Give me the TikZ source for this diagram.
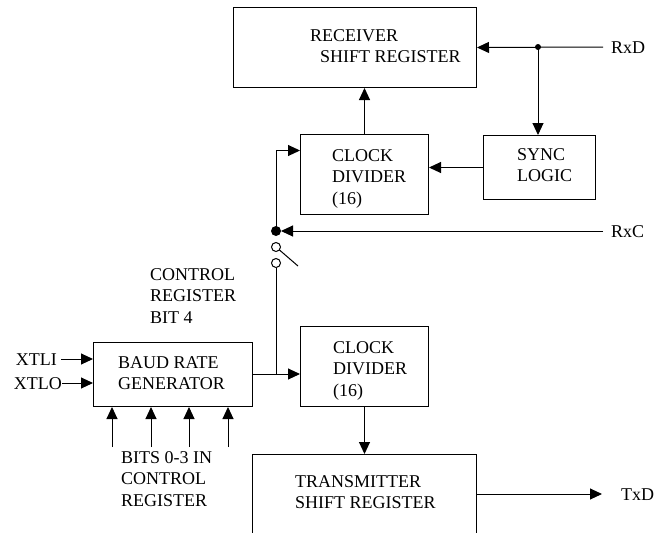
\documentclass[tikz,border=0pt]{standalone}
\usepackage{fontspec}
\setmainfont{Liberation Serif}
\usetikzlibrary{positioning,arrows.meta,calc}

\tikzset{
    blk/.style={draw, line width=1pt, inner sep=0pt, rectangle},
    txt/.style={inner sep=0pt, align=left},
    arr/.style={line width=1pt, -{Triangle[length=12pt,width=11pt]}},
    wire/.style={line width=1pt}
}

\begin{document}
\begin{tikzpicture}[x=1pt, y=-1pt, font=\fontsize{18}{21.5}\selectfont]

\useasboundingbox (0,0) rectangle (665,533);
\clip (0,0) rectangle (665,533);

% Blocks
\node[blk, minimum width=243, minimum height=80, anchor=north west] (rcv) at (233,7) {};
\node[blk, minimum width=128, minimum height=80, anchor=north west] (cdr) at (300,134) {};
\node[blk, minimum width=112, minimum height=64, anchor=north west] (sync) at (483,135) {};
\node[blk, minimum width=159, minimum height=64, anchor=north west] (brg) at (93,342) {};
\node[blk, minimum width=128, minimum height=80, anchor=north west] (cdt) at (300,326) {};
\node[blk, minimum width=224, minimum height=120, anchor=north west] (tsr) at (252,454) {};

% Block texts
\node[txt, anchor=north west] (rcvtxt) at (310,29) {RECEIVER\\\hspace*{10pt}SHIFT REGISTER};
\node[txt, anchor=north west] (cdrtxt) at (332,149) {CLOCK\\DIVIDER\\(16)};
\node[txt, anchor=north west] (synctxt) at (517,148) {SYNC\\LOGIC};
\node[txt, anchor=north west] (brgtxt) at (118,356) {BAUD RATE\\GENERATOR};
\node[txt, anchor=north west] (cdttxt) at (333,341) {CLOCK\\DIVIDER\\(16)};
\node[txt, anchor=north west] (tsrtxt) at (295,475) {TRANSMITTER\\SHIFT REGISTER};

% Free labels
\node[txt, anchor=north west] (ctrl) at (150,268) {CONTROL\\REGISTER\\BIT 4};
\node[txt, anchor=north west] (bits) at (121,451) {BITS 0-3 IN\\CONTROL\\REGISTER};
\node[txt, anchor=base west] (rxd) at (611,53) {RxD};
\node[txt, anchor=base west] (rxc) at (611,237) {RxC};
\node[txt, anchor=base west] (txd) at (621,500) {TxD};
\node[txt, anchor=base east] (xtli) at (57,365) {XTLI};
\node[txt, anchor=base east] (xtlo) at (62,389) {XTLO};

% Points
\coordinate (rxdend) at (603,47);
\coordinate (rxddot) at (538,47);
\coordinate (rxcend) at (603,231);
\coordinate (swtop) at (276,231);
\coordinate (swa) at (276,247);
\coordinate (swb) at (276,263);
\coordinate (swlever) at (298,266);
\coordinate (brgout) at (276,374);
\coordinate (txdend) at (602,494);

% Receive path
\draw[arr] (rxdend) -- (rcv.east);
\fill (rxddot) circle (3);
\draw[arr] (rxddot) -- (rxddot |- sync.north);
\draw[arr] (sync.west) -- (sync.west -| cdr.east);
\draw[arr] (cdr.north) -- (cdr.north |- rcv.south);

% Clock select
\draw[arr, shorten >=5pt] (rxcend) -- (swtop);
\fill (swtop) circle (5);
\draw[arr] (swtop) |- ([yshift=24pt]cdr.west);
\draw[wire] (swa) circle (4.5);
\draw[wire] (swb) circle (4.5);
\draw[wire, shorten <=4.5pt] (swa) -- (swlever);
\draw[wire, shorten <=4.5pt] (swb) -- (brgout);

% Transmit path
\draw[arr] (brg.east |- brgout) -- (cdt.west |- brgout);
\draw[arr] (cdt.south) -- (cdt.south |- tsr.north);
\draw[arr] (tsr.east |- txdend) -- (txdend);

% Baud rate inputs
\draw[arr] ([xshift=4pt]xtli.east |- 0,359) -- (brg.west |- 0,359);
\draw[arr] (xtlo.east |- 0,383) -- (brg.west |- 0,383);
\foreach \x in {112,151,189,228} {
    \coordinate (bit\x) at (\x,447);
    \draw[arr] (bit\x) -- (bit\x |- brg.south);
}
\end{tikzpicture}
\end{document}
